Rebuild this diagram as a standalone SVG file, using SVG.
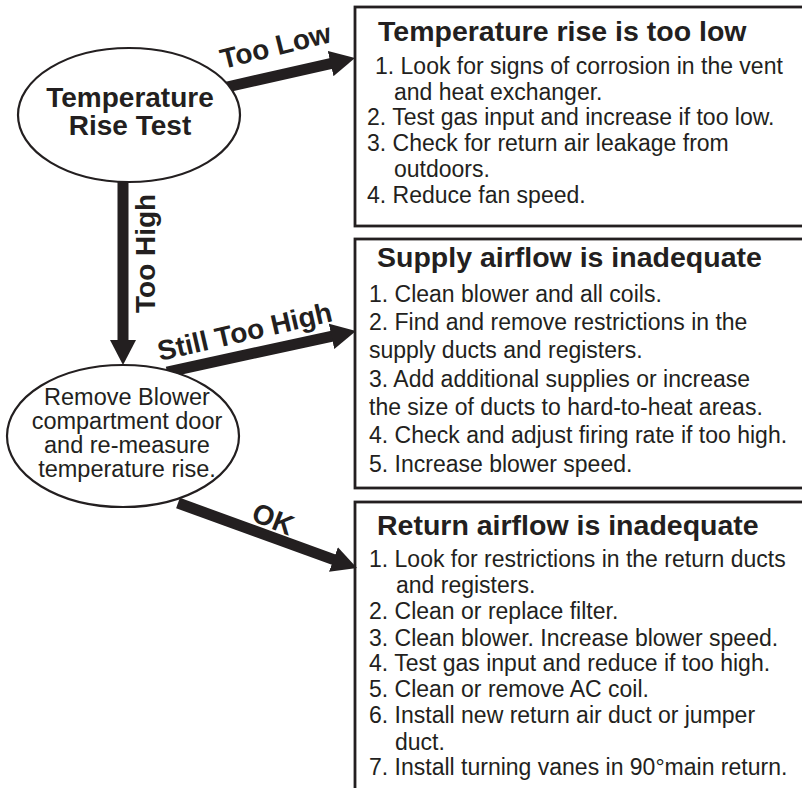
<svg xmlns="http://www.w3.org/2000/svg" width="802" height="788" viewBox="0 0 802 788">
<style>
.bg{fill:#ffffff}
.box{fill:none;stroke:#231f20;stroke-width:2.8}
.ell{fill:#ffffff;stroke:#231f20;stroke-width:2.2}
.conn{fill:none;stroke:#231f20;stroke-width:11}
.title{font-family:"Liberation Sans",Arial,sans-serif;font-weight:bold;font-size:28.5px;fill:#231f20}
.lbl{font-family:"Liberation Sans",Arial,sans-serif;font-weight:bold;font-size:28px;fill:#231f20}
.body{font-family:"Liberation Sans",Arial,sans-serif;font-size:23px;fill:#231f20}
.node2{font-family:"Liberation Sans",Arial,sans-serif;font-size:23.5px;fill:#231f20;text-anchor:middle}
.node1{font-family:"Liberation Sans",Arial,sans-serif;font-weight:bold;font-size:28px;fill:#231f20;text-anchor:middle}
</style>
<defs>
<marker id="ah" markerUnits="userSpaceOnUse" markerWidth="26" markerHeight="26" viewBox="0 0 26 26" refX="1" refY="13" orient="auto">
<path d="M0,0 L25,13 L0,26 z" fill="#231f20"/>
</marker>
</defs>
<rect class="bg" x="0" y="0" width="802" height="788"/>

<g id="connectors">
<path class="conn" d="M227,87 L331.6,63.3" marker-end="url(#ah)"/>
<path class="conn" d="M123,182 L123,341" marker-end="url(#ah)"/>
<path class="conn" d="M167,372 L332.5,336.1" marker-end="url(#ah)"/>
<path class="conn" d="M178,503 L334.4,559.8" marker-end="url(#ah)"/>
<text class="lbl" x="223" y="69" transform="rotate(-14 223 69)">Too Low</text>
<text class="lbl" x="155" y="313" transform="rotate(-90 155 313)">Too High</text>
<text class="lbl" x="160" y="361" transform="rotate(-13 160 361)">Still Too High</text>
<text class="lbl" x="250" y="520" transform="rotate(22 250 520)">OK</text>
</g>

<g id="node-test">
<ellipse class="ell" cx="129" cy="115" rx="111" ry="67"/>
<text class="node1" x="130" y="107">Temperature</text>
<text class="node1" x="130" y="135">Rise Test</text>
</g>

<g id="node-remove">
<ellipse class="ell" cx="123" cy="436" rx="116" ry="71"/>
<text class="node2" x="127" y="405">Remove Blower</text>
<text class="node2" x="127" y="429">compartment door</text>
<text class="node2" x="127" y="453">and re-measure</text>
<text class="node2" x="127" y="477">temperature rise.</text>
</g>

<g id="box-low">
<rect class="box" x="355" y="7" width="460" height="219"/>
<text class="title" x="378" y="41">Temperature rise is too low</text>
<text class="body" x="375" y="74">1. Look for signs of corrosion in the vent</text>
<text class="body" x="394" y="100">and heat exchanger.</text>
<text class="body" x="367" y="125">2. Test gas input and increase if too low.</text>
<text class="body" x="367" y="151">3. Check for return air leakage from</text>
<text class="body" x="394" y="177">outdoors.</text>
<text class="body" x="367" y="203">4. Reduce fan speed.</text>
</g>

<g id="box-supply">
<rect class="box" x="355" y="239" width="460" height="249"/>
<text class="title" x="377" y="267">Supply airflow is inadequate</text>
<text class="body" x="369" y="302">1. Clean blower and all coils.</text>
<text class="body" x="369" y="330">2. Find and remove restrictions in the</text>
<text class="body" x="369" y="358">supply ducts and registers.</text>
<text class="body" x="369" y="387">3. Add additional supplies or increase</text>
<text class="body" x="369" y="415">the size of ducts to hard-to-heat areas.</text>
<text class="body" x="369" y="443">4. Check and adjust firing rate if too high.</text>
<text class="body" x="369" y="472">5. Increase blower speed.</text>
</g>

<g id="box-return">
<rect class="box" x="355" y="502" width="460" height="300"/>
<text class="title" x="377" y="535">Return airflow is inadequate</text>
<text class="body" x="369" y="567">1. Look for restrictions in the return ducts</text>
<text class="body" x="396" y="593">and registers.</text>
<text class="body" x="369" y="619">2. Clean or replace filter.</text>
<text class="body" x="369" y="646">3. Clean blower. Increase blower speed.</text>
<text class="body" x="369" y="671">4. Test gas input and reduce if too high.</text>
<text class="body" x="369" y="697">5. Clean or remove AC coil.</text>
<text class="body" x="369" y="723">6. Install new return air duct or jumper</text>
<text class="body" x="395" y="750">duct.</text>
<text class="body" x="369" y="775">7. Install turning vanes in 90°main return.</text>
</g>
</svg>
